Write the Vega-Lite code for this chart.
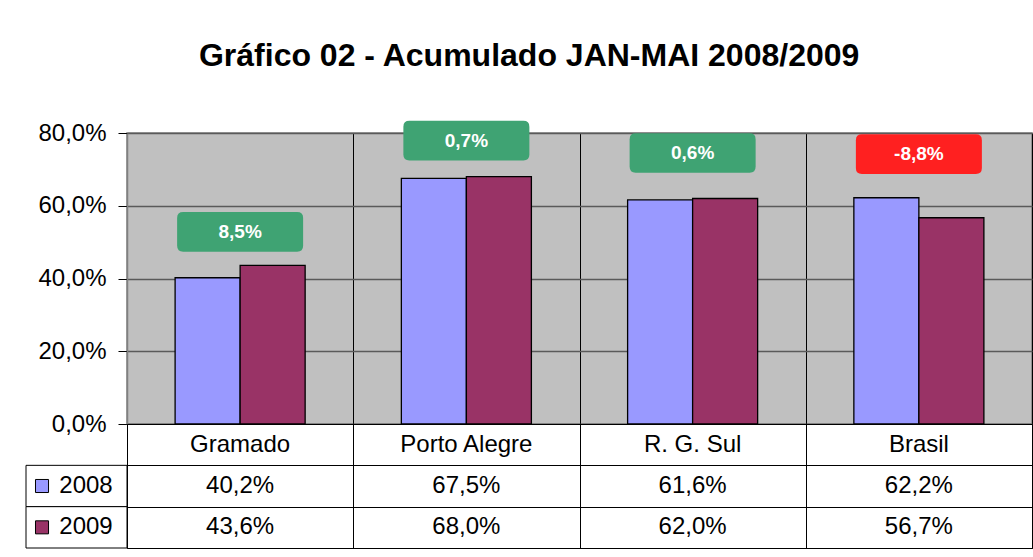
{
  "$schema": "https://vega.github.io/schema/vega-lite/v6.json",
  "background": "white",
  "padding": {"left": 25, "top": 40, "right": 2, "bottom": 9},
  "title": {
    "text": "Gráfico 02 - Acumulado JAN-MAI 2008/2009",
    "font": "Liberation Sans",
    "fontSize": 32,
    "fontWeight": "bold",
    "color": "black",
    "anchor": "middle",
    "offset": 47
  },
  "config": {
    "locale": {"number": {"decimal": ",", "thousands": ".", "grouping": [3], "currency": ["", ""], "minus": "-"}},
    "axis": {"labelFont": "Liberation Sans"},
    "text": {"font": "Liberation Sans"}
  },
  "datasets": {
    "valores": [
      {"cat": "Gramado", "ano": "2008", "valor": 0.402},
      {"cat": "Gramado", "ano": "2009", "valor": 0.436},
      {"cat": "Porto Alegre", "ano": "2008", "valor": 0.675},
      {"cat": "Porto Alegre", "ano": "2009", "valor": 0.680},
      {"cat": "R. G. Sul", "ano": "2008", "valor": 0.616},
      {"cat": "R. G. Sul", "ano": "2009", "valor": 0.620},
      {"cat": "Brasil", "ano": "2008", "valor": 0.622},
      {"cat": "Brasil", "ano": "2009", "valor": 0.567}
    ],
    "variacao": [
      {"cat": "Gramado", "variacao": 0.085, "nivel": 0.528},
      {"cat": "Porto Alegre", "variacao": 0.007, "nivel": 0.779},
      {"cat": "R. G. Sul", "variacao": 0.006, "nivel": 0.745},
      {"cat": "Brasil", "variacao": -0.088, "nivel": 0.742}
    ]
  },
  "columns": 2,
  "spacing": 0,
  "bounds": "flush",
  "concat": [
    {
      "width": 101,
      "height": 291,
      "data": {"values": []},
      "mark": "point",
      "view": {"stroke": null}
    },
    {
      "width": 905,
      "height": 291,
      "view": {"fill": "#C0C0C0", "stroke": "#808080", "strokeWidth": 1.5},
      "encoding": {
        "x": {
          "field": "cat",
          "type": "nominal",
          "sort": ["Gramado", "Porto Alegre", "R. G. Sul", "Brasil"],
          "scale": {"paddingInner": 0, "paddingOuter": 0},
          "axis": {
            "title": null,
            "labels": false,
            "ticks": false,
            "domain": false,
            "grid": true,
            "tickBand": "extent",
            "gridColor": "black",
            "gridWidth": 1,
            "gridOpacity": 1
          }
        }
      },
      "layer": [
        {
          "data": {"name": "valores"},
          "mark": {"type": "bar", "stroke": "black", "strokeWidth": 1.3, "opacity": 1},
          "encoding": {
            "xOffset": {"field": "ano", "type": "nominal", "scale": {"paddingInner": 0, "paddingOuter": 0.74}},
            "y": {
              "field": "valor",
              "type": "quantitative",
              "scale": {"domain": [0, 0.8], "nice": false},
              "axis": {
                "title": null,
                "values": [0, 0.2, 0.4, 0.6, 0.8],
                "format": ".1%",
                "labelFontSize": 24,
                "labelColor": "black",
                "labelPadding": 12,
                "tickSize": 9,
                "tickColor": "black",
                "tickWidth": 1,
                "domainColor": "#808080",
                "domainWidth": 1.5,
                "grid": true,
                "gridColor": "#5A5A5A",
                "gridWidth": 1.5,
                "gridOpacity": 1
              }
            },
            "color": {"field": "ano", "type": "nominal", "scale": {"domain": ["2008", "2009"], "range": ["#9999FF", "#993366"]}, "legend": null}
          }
        },
        {
          "data": {"name": "variacao"},
          "mark": {
            "type": "point",
            "shape": "M-0.905,-0.315H0.905Q1,-0.315,1,-0.22V0.22Q1,0.315,0.905,0.315H-0.905Q-1,0.315,-1,0.22V-0.22Q-1,-0.315,-0.905,-0.315Z",
            "size": 15876,
            "filled": true,
            "opacity": 1,
            "strokeWidth": 0
          },
          "encoding": {
            "y": {"field": "nivel", "type": "quantitative"},
            "fill": {"condition": {"test": "datum.variacao < 0", "value": "#FF2020"}, "value": "#3FA373"}
          }
        },
        {
          "data": {"name": "variacao"},
          "mark": {"type": "text", "color": "white", "fontSize": 19, "fontWeight": "bold", "baseline": "middle"},
          "encoding": {
            "y": {"field": "nivel", "type": "quantitative"},
            "text": {"field": "variacao", "type": "quantitative", "format": ".1%"}
          }
        }
      ]
    },
    {
      "width": 101,
      "height": 124,
      "data": {"name": "valores"},
      "transform": [{"filter": "datum.cat === 'Gramado'"}],
      "view": {"stroke": null},
      "encoding": {
        "y": {
          "field": "ano",
          "type": "nominal",
          "scale": {"domain": ["cat", "2008", "2009"], "paddingInner": 0, "paddingOuter": 0},
          "axis": null
        }
      },
      "layer": [
        {
          "mark": {"type": "rect", "fill": "white", "stroke": "black", "strokeWidth": 1}
        },
        {
          "mark": {"type": "point", "shape": "square", "filled": true, "size": 170, "stroke": "black", "strokeWidth": 1, "opacity": 1},
          "encoding": {
            "x": {"datum": "simbolo", "type": "nominal", "scale": {"type": "point", "domain": ["simbolo", "rotulo"], "padding": 0.6477, "align": 0.281}, "axis": null},
            "color": {"field": "ano", "type": "nominal", "scale": {"domain": ["2008", "2009"], "range": ["#9999FF", "#993366"]}, "legend": null}
          }
        },
        {
          "mark": {"type": "text", "fontSize": 24, "color": "black", "baseline": "middle"},
          "encoding": {
            "x": {"datum": "rotulo", "type": "nominal"},
            "text": {"field": "ano", "type": "nominal"}
          }
        }
      ]
    },
    {
      "width": 905,
      "height": 124,
      "data": {"name": "valores"},
      "view": {"stroke": "black", "strokeWidth": 1, "fill": "white"},
      "encoding": {
        "x": {
          "field": "cat",
          "type": "nominal",
          "sort": ["Gramado", "Porto Alegre", "R. G. Sul", "Brasil"],
          "scale": {"paddingInner": 0, "paddingOuter": 0},
          "axis": {
            "title": null,
            "labels": false,
            "ticks": false,
            "domain": false,
            "grid": true,
            "tickBand": "extent",
            "gridColor": "black",
            "gridWidth": 1,
            "gridOpacity": 1
          }
        }
      },
      "layer": [
        {
          "mark": {"type": "text", "fontSize": 24, "color": "black", "baseline": "middle"},
          "encoding": {
            "y": {
              "field": "ano",
              "type": "nominal",
              "scale": {"domain": ["cat", "2008", "2009"], "paddingInner": 0, "paddingOuter": 0},
              "axis": {
                "title": null,
                "labels": false,
                "ticks": false,
                "domain": false,
                "grid": true,
                "tickBand": "extent",
                "gridColor": "black",
                "gridWidth": 1,
                "gridOpacity": 1
              }
            },
            "text": {"field": "valor", "type": "quantitative", "format": ".1%"}
          }
        },
        {
          "transform": [{"filter": "datum.ano === '2008'"}],
          "mark": {"type": "text", "fontSize": 24, "color": "black", "baseline": "middle"},
          "encoding": {
            "y": {"datum": "cat", "type": "nominal"},
            "text": {"field": "cat", "type": "nominal"}
          }
        }
      ]
    }
  ]
}
